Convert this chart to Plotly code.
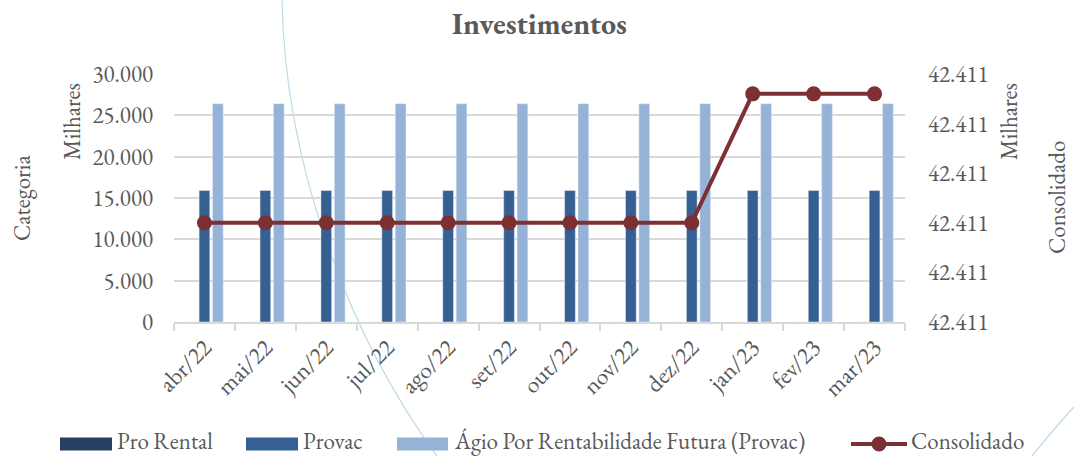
import plotly.graph_objects as go

# ---- data (values in thousands) ----
meses = ["abr/22", "mai/22", "jun/22", "jul/22", "ago/22", "set/22",
         "out/22", "nov/22", "dez/22", "jan/23", "fev/23", "mar/23"]
pro_rental = [0, 0, 0, 0, 0, 0, 0, 0, 0, 0, 0, 0]
provac = [15900, 15900, 15900, 15900, 15900, 15900,
          15900, 15900, 15900, 15900, 15900, 15900]
agio = [26400, 26400, 26400, 26400, 26400, 26400,
        26400, 26400, 26400, 26400, 26400, 26400]
consolidado = [42411.00, 42411.00, 42411.00, 42411.00, 42411.00, 42411.00,
               42411.00, 42411.00, 42411.00, 42411.26, 42411.26, 42411.26]

y2_ticks = [42410.8, 42410.9, 42411.0, 42411.1, 42411.2, 42411.3]

serie_nomes = ["Pro Rental", "Provac", "Ágio Por Rentabilidade Futura (Provac)", "Consolidado"]
serie_cores = ["#254061", "#376092", "#95b3d7", "#7d3033"]

# ---- layout constants ----
W, H = 1074, 456
L, R, T, B = 174, 169, 74, 134
PW, PH = W - L - R, H - T - B
FONT = "Garamond, 'EB Garamond', 'Liberation Serif', serif"
GRAY = "#595959"
GRID = "#d9d9d9"


def fx(x):
    return (x - L) / PW


def fy(y):
    return (H - B - y) / PH


fig = go.Figure()
fig.add_trace(go.Bar(name=serie_nomes[0], x=meses, y=pro_rental,
                     marker_color=serie_cores[0], showlegend=False))
fig.add_trace(go.Bar(name=serie_nomes[1], x=meses, y=provac,
                     marker_color=serie_cores[1], showlegend=False))
fig.add_trace(go.Bar(name=serie_nomes[2], x=meses, y=agio,
                     marker_color=serie_cores[2], showlegend=False))
fig.add_trace(go.Scatter(name=serie_nomes[3], x=meses, y=consolidado, yaxis="y2",
                         mode="lines+markers",
                         line=dict(color=serie_cores[3], width=4),
                         marker=dict(color=serie_cores[3], size=15),
                         showlegend=False))

# legend drawn below the plot: swatch rectangles / line symbol plus labels
leg_sw = [(60, 112), (246, 298), (397, 448), (851, 907)]
leg_tx = [116, 302, 453, 910]
leg_y = 444
leg_text_y = 441
shapes = []
annotations = []
for i, nome in enumerate(serie_nomes):
    x0, x1 = leg_sw[i]
    if i < 3:
        shapes.append(dict(type="rect", xref="paper", yref="paper",
                           x0=fx(x0), x1=fx(x1), y0=fy(leg_y + 6.5), y1=fy(leg_y - 6.5),
                           fillcolor=serie_cores[i], line_width=0))
    else:
        shapes.append(dict(type="line", xref="paper", yref="paper",
                           x0=fx(x0), x1=fx(x1), y0=fy(leg_y), y1=fy(leg_y),
                           line=dict(color=serie_cores[i], width=4)))
        cx = (x0 + x1) / 2
        shapes.append(dict(type="circle", xref="paper", yref="paper",
                           x0=fx(cx - 7.5), x1=fx(cx + 7.5),
                           y0=fy(leg_y + 7.5), y1=fy(leg_y - 7.5),
                           fillcolor=serie_cores[i], line_width=0))
    annotations.append(dict(text=nome, xref="paper", yref="paper",
                            x=fx(leg_tx[i]), y=fy(leg_text_y), xanchor="left", yanchor="middle",
                            borderpad=0, showarrow=False,
                            font=dict(family=FONT, size=23, color=GRAY)))

# decorative thin arcs in the background
def curve(pts):
    (x0, y0), (x1, y1), (x2, y2), (x3, y3) = pts
    return (f"M{fx(x0)},{fy(y0)} C{fx(x1)},{fy(y1)} "
            f"{fx(x2)},{fy(y2)} {fx(x3)},{fy(y3)}")


shapes.append(dict(type="path", xref="paper", yref="paper", layer="below",
                   path=curve([(282, 0), (285, 160), (345, 330), (437, 456)]),
                   line=dict(color="#bcdbe6", width=1.2)))
shapes.append(dict(type="path", xref="paper", yref="paper", layer="below",
                   path=curve([(1032, 456), (1045, 440), (1060, 422), (1074, 407)]),
                   line=dict(color="#bcdbe6", width=1.2)))

# title and axis captions
annotations += [
    dict(text="<b>Investimentos</b>", xref="paper", yref="paper", x=0.5, y=fy(24),
         xanchor="center", yanchor="middle", showarrow=False,
         font=dict(family=FONT, size=30, color=GRAY)),
    dict(text="Milhares", xref="paper", yref="paper", x=fx(72), y=fy(122),
         xanchor="center", yanchor="middle", textangle=-90, showarrow=False,
         borderpad=0, font=dict(family=FONT, size=23, color=GRAY)),
    dict(text="Categoria", xref="paper", yref="paper", x=fx(22), y=fy(198),
         xanchor="center", yanchor="middle", textangle=-90, showarrow=False,
         borderpad=0, font=dict(family=FONT, size=23, color=GRAY)),
    dict(text="Milhares", xref="paper", yref="paper", x=fx(1009), y=fy(122),
         xanchor="center", yanchor="middle", textangle=-90, showarrow=False,
         borderpad=0, font=dict(family=FONT, size=23, color=GRAY)),
    dict(text="Consolidado", xref="paper", yref="paper", x=fx(1057), y=fy(198),
         xanchor="center", yanchor="middle", textangle=-90, showarrow=False,
         borderpad=0, font=dict(family=FONT, size=23, color=GRAY)),
]

fig.update_layout(
    width=W, height=H,
    margin=dict(l=L, r=R, t=T, b=B),
    paper_bgcolor="white", plot_bgcolor="rgba(0,0,0,0)",
    separators=",.",
    barmode="group", bargap=0.34, bargroupgap=0.2,
    showlegend=False,
    font=dict(family=FONT, size=23, color=GRAY),
    xaxis=dict(type="category", range=[-0.5, len(meses) - 0.5],
               showgrid=False, showline=True, linecolor=GRID, linewidth=1.5,
               ticks="outside", tickson="boundaries", ticklen=7, tickcolor=GRID, tickwidth=1.5,
               tickangle=-45, tickfont=dict(family=FONT, size=24, color=GRAY)),
    yaxis=dict(range=[0, 30000], dtick=5000, tickformat=",.0f", showline=False,
               showgrid=True, gridcolor=GRID, gridwidth=1.5, zeroline=False,
               ticks="", ticklabelstandoff=20,
               tickfont=dict(family=FONT, size=23, color=GRAY)),
    yaxis2=dict(overlaying="y", side="right", range=[y2_ticks[0], y2_ticks[-1]],
                tickmode="array", tickvals=y2_ticks, tickformat=",.0f",
                showgrid=False, zeroline=False, showline=False, ticks="",
                ticklabelstandoff=22,
                tickfont=dict(family=FONT, size=23, color=GRAY)),
    shapes=shapes,
    annotations=annotations,
)

fig.write_html("out.html")
